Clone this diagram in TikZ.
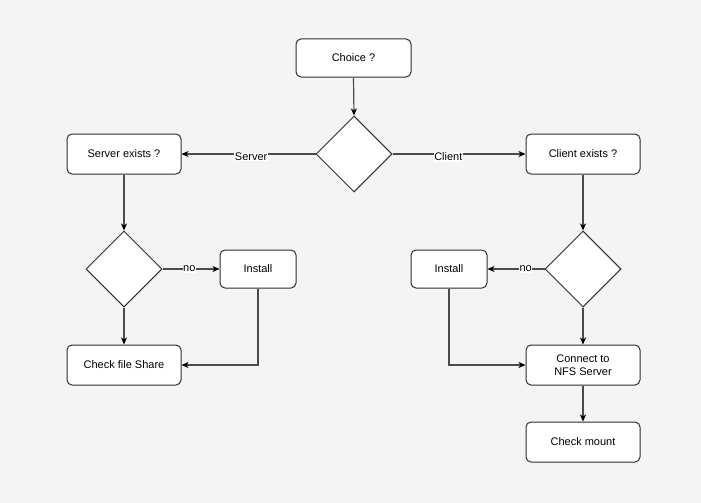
\documentclass[tikz,border=0pt]{standalone}
\usepackage{fontspec}
\setmainfont{Liberation Sans}
\usetikzlibrary{arrows.meta,shapes.geometric}
\definecolor{bgcol}{HTML}{F4F4F4}
\definecolor{edgecol}{HTML}{4A4A4A}
\definecolor{bordercol}{HTML}{2E2E2E}
\tikzset{
  box/.style={draw=bordercol, fill=white, rounded corners=5pt, line width=1pt,
    minimum width=114pt, minimum height=40pt, align=center, inner sep=0pt,
    font=\fontsize{11}{13}\selectfont},
  smallbox/.style={box, minimum width=76pt, minimum height=38pt},
  decision/.style={draw=bordercol, fill=white, diamond, line width=1pt,
    minimum width=76pt, minimum height=76pt, inner sep=0pt},
  flow/.style={draw=edgecol, line width=1.2pt,
    -{Stealth[length=7pt,width=6pt,inset=2pt,color=black]}},
  elabel/.style={fill=white, inner sep=0.5pt, font=\fontsize{11}{12}\selectfont}
}
\begin{document}
\begin{tikzpicture}[x=1pt,y=-1pt]
  \fill[bgcol] (0,0) rectangle (701,503);
  \useasboundingbox (0,0) rectangle (701,503);

  % top level
  \node[box, minimum width=115pt, minimum height=38pt] (choice) at (353.5,58) {Choice ?};
  \node[decision] (dtop) at (354,154) {};
  \node[box] (srvex) at (124,154) {Server exists ?};
  \node[box] (cliex) at (583,154) {Client exists ?};

  % server branch
  \node[decision] (dsrv) at (124,269) {};
  \node[smallbox] (instS) at (258,269) {Install};
  \node[box] (share) at (124,365) {Check file Share};

  % client branch
  \node[decision] (dcli) at (583,269) {};
  \node[smallbox] (instC) at (449,269) {Install};
  \node[box] (nfs) at (583,365) {Connect to\\NFS Server};
  \node[box] (mount) at (583,442) {Check mount};

  % connectors
  \draw[flow] (choice.south) -- (dtop.north);
  \draw[flow] (dtop.west) -- node[elabel, pos=0.48, yshift=-3pt] {Server} (srvex.east);
  \draw[flow] (dtop.east) -- node[elabel, pos=0.42, yshift=-3pt] {Client} (cliex.west);

  \draw[flow] (srvex.south) -- (dsrv.north);
  \draw[flow] (dsrv.east) -- node[elabel, pos=0.47] {no} (instS.west);
  \draw[flow] (dsrv.south) -- (share.north);
  \draw[flow] (instS.south) |- (share.east);

  \draw[flow] (cliex.south) -- (dcli.north);
  \draw[flow] (dcli.west) -- node[elabel, pos=0.33] {no} (instC.east);
  \draw[flow] (dcli.south) -- (nfs.north);
  \draw[flow] (instC.south) |- (nfs.west);
  \draw[flow] (nfs.south) -- (mount.north);
\end{tikzpicture}
\end{document}
